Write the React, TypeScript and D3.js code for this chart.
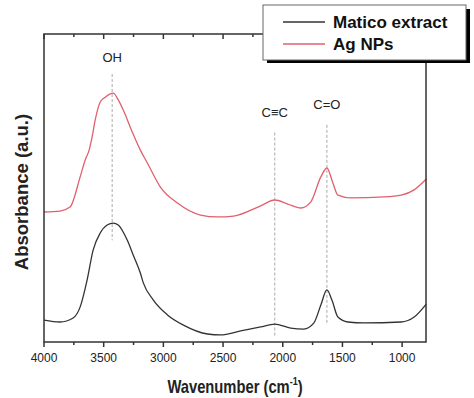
import React, { useEffect, useRef } from "react";
import * as d3 from "d3";

// wavenumber (cm-1), decreasing
const wavenumbers = [
  4000, 3866, 3782, 3697, 3655, 3622, 3597, 3571, 3529, 3487, 3420, 3378, 3336,
  3261, 3193, 3134, 3025, 2882, 2689, 2546, 2412, 2185, 2067, 1958, 1849, 1765,
  1681, 1630, 1580, 1538, 1429, 1151, 1008, 899, 798,
];
const agNPs = [
  0.422, 0.425, 0.438, 0.536, 0.591, 0.623, 0.666, 0.721, 0.779, 0.795, 0.808,
  0.786, 0.753, 0.682, 0.623, 0.581, 0.503, 0.451, 0.412, 0.406, 0.409, 0.442,
  0.461, 0.448, 0.435, 0.455, 0.536, 0.565, 0.516, 0.477, 0.468, 0.471, 0.477,
  0.494, 0.529,
];

const maticoWn = [
  4000, 3866, 3756, 3697, 3639, 3588, 3529, 3471, 3420, 3378, 3303, 3252, 3193,
  3168, 3084, 2966, 2832, 2630, 2521, 2353, 2185, 2067, 1933, 1824, 1739, 1681,
  1630, 1588, 1538, 1454, 1319, 1008, 899, 798,
];
const matico = [
  0.071, 0.065, 0.078, 0.114, 0.201, 0.299, 0.354, 0.38, 0.386, 0.38, 0.331,
  0.282, 0.224, 0.192, 0.136, 0.088, 0.055, 0.026, 0.023, 0.036, 0.049, 0.058,
  0.045, 0.042, 0.062, 0.12, 0.169, 0.136, 0.081, 0.065, 0.062, 0.065, 0.081,
  0.123,
];

const xTicks = [4000, 3500, 3000, 2500, 2000, 1500, 1000];
const xMinor = [3750, 3250, 2750, 2250, 1750, 1250];

const peakLabels = ["OH", "C\u2261C", "C=O"];
const peakPositions = [3429, 2067, 1630];

const seriesNames = ["Matico extract", "Ag NPs"];
const seriesColors = ["#333333", "#e0606e"];

const App = () => {
  const ref = useRef<SVGSVGElement>(null);

  useEffect(() => {
    const svg = d3.select(ref.current);
    svg.selectAll("*").remove();

    const left = 44;
    const right = 426;
    const top = 34;
    const bottom = 342;

    const x = d3.scaleLinear().domain([4000, 800]).range([left, right]);
    const y = d3.scaleLinear().domain([0, 1]).range([bottom, top]);

    const font = "'Liberation Sans', Arial, sans-serif";

    // dashed peak markers
    const markerTop = [0.87, 0.68, 0.705];
    const markerBottom = [0.33, 0.02, 0.055];
    peakPositions.forEach((p, i) => {
      svg
        .append("line")
        .attr("x1", x(p))
        .attr("x2", x(p))
        .attr("y1", y(markerTop[i]))
        .attr("y2", y(markerBottom[i]))
        .attr("stroke", "#aaaaaa")
        .attr("stroke-width", 1)
        .attr("stroke-dasharray", "3,2");
    });

    const labelY = [0.909, 0.73, 0.755];
    peakPositions.forEach((p, i) => {
      svg
        .append("text")
        .attr("x", x(p))
        .attr("y", y(labelY[i]))
        .attr("text-anchor", "middle")
        .attr("font-family", font)
        .attr("font-size", 13)
        .attr("fill", "#222")
        .text(peakLabels[i]);
    });

    const line = d3
      .line<[number, number]>()
      .x((d) => x(d[0]))
      .y((d) => y(d[1]))
      .curve(d3.curveMonotoneX);

    svg
      .append("path")
      .datum(maticoWn.map((w, i) => [w, matico[i]] as [number, number]))
      .attr("fill", "none")
      .attr("stroke", seriesColors[0])
      .attr("stroke-width", 1.3)
      .attr("d", line);

    svg
      .append("path")
      .datum(wavenumbers.map((w, i) => [w, agNPs[i]] as [number, number]))
      .attr("fill", "none")
      .attr("stroke", seriesColors[1])
      .attr("stroke-width", 1.3)
      .attr("d", line);

    // frame
    svg
      .append("rect")
      .attr("x", left)
      .attr("y", top)
      .attr("width", right - left)
      .attr("height", bottom - top)
      .attr("fill", "none")
      .attr("stroke", "#333")
      .attr("stroke-width", 1.5);

    xTicks.forEach((t) => {
      svg
        .append("line")
        .attr("x1", x(t))
        .attr("x2", x(t))
        .attr("y1", bottom)
        .attr("y2", bottom + 5)
        .attr("stroke", "#333")
        .attr("stroke-width", 1.5);
      svg
        .append("line")
        .attr("x1", x(t))
        .attr("x2", x(t))
        .attr("y1", top)
        .attr("y2", top + 5)
        .attr("stroke", "#333")
        .attr("stroke-width", 1.5);
      svg
        .append("text")
        .attr("x", x(t))
        .attr("y", 362)
        .attr("text-anchor", "middle")
        .attr("font-family", font)
        .attr("font-size", 12)
        .attr("fill", "#222")
        .text(t);
    });
    xMinor.forEach((t) => {
      svg
        .append("line")
        .attr("x1", x(t))
        .attr("x2", x(t))
        .attr("y1", bottom)
        .attr("y2", bottom + 3)
        .attr("stroke", "#333")
        .attr("stroke-width", 1.5);
      svg
        .append("line")
        .attr("x1", x(t))
        .attr("x2", x(t))
        .attr("y1", top)
        .attr("y2", top + 3)
        .attr("stroke", "#333")
        .attr("stroke-width", 1.5);
    });

    // axis titles
    const xt = svg
      .append("text")
      .attr("transform", "translate(235,393) scale(0.82,1)")
      .attr("text-anchor", "middle")
      .attr("font-family", font)
      .attr("font-weight", "bold")
      .attr("font-size", 18)
      .attr("fill", "#222");
    xt.append("tspan").text("Wavenumber (cm");
    xt.append("tspan").attr("dy", -8).attr("font-size", 11).text("-1");
    xt.append("tspan").attr("dy", 8).text(")");

    svg
      .append("text")
      .attr("transform", "translate(28,192) rotate(-90)")
      .attr("text-anchor", "middle")
      .attr("font-family", font)
      .attr("font-weight", "bold")
      .attr("font-size", 18.5)
      .attr("fill", "#222")
      .text("Absorbance (a.u.)");

    // legend
    const lg = svg.append("g");
    lg.append("rect")
      .attr("x", 267)
      .attr("y", 9)
      .attr("width", 203)
      .attr("height", 54)
      .attr("fill", "#000");
    lg.append("rect")
      .attr("x", 263)
      .attr("y", 5)
      .attr("width", 203)
      .attr("height", 55)
      .attr("fill", "#fff")
      .attr("stroke", "#666")
      .attr("stroke-width", 1);
    seriesNames.forEach((name, i) => {
      const ly = 22 + i * 22;
      lg.append("line")
        .attr("x1", 283)
        .attr("x2", 325)
        .attr("y1", ly)
        .attr("y2", ly)
        .attr("stroke", seriesColors[i])
        .attr("stroke-width", 1.3);
      lg.append("text")
        .attr("x", 333)
        .attr("y", ly + 5.5)
        .attr("font-family", font)
        .attr("font-weight", "bold")
        .attr("font-size", 17)
        .attr("fill", "#111")
        .text(name);
    });
  }, []);

  return (
    <svg
      ref={ref}
      width={474}
      height={398}
      style={{ position: "absolute", left: 0, top: 0, background: "#fff" }}
    ></svg>
  );
};

export default App;
